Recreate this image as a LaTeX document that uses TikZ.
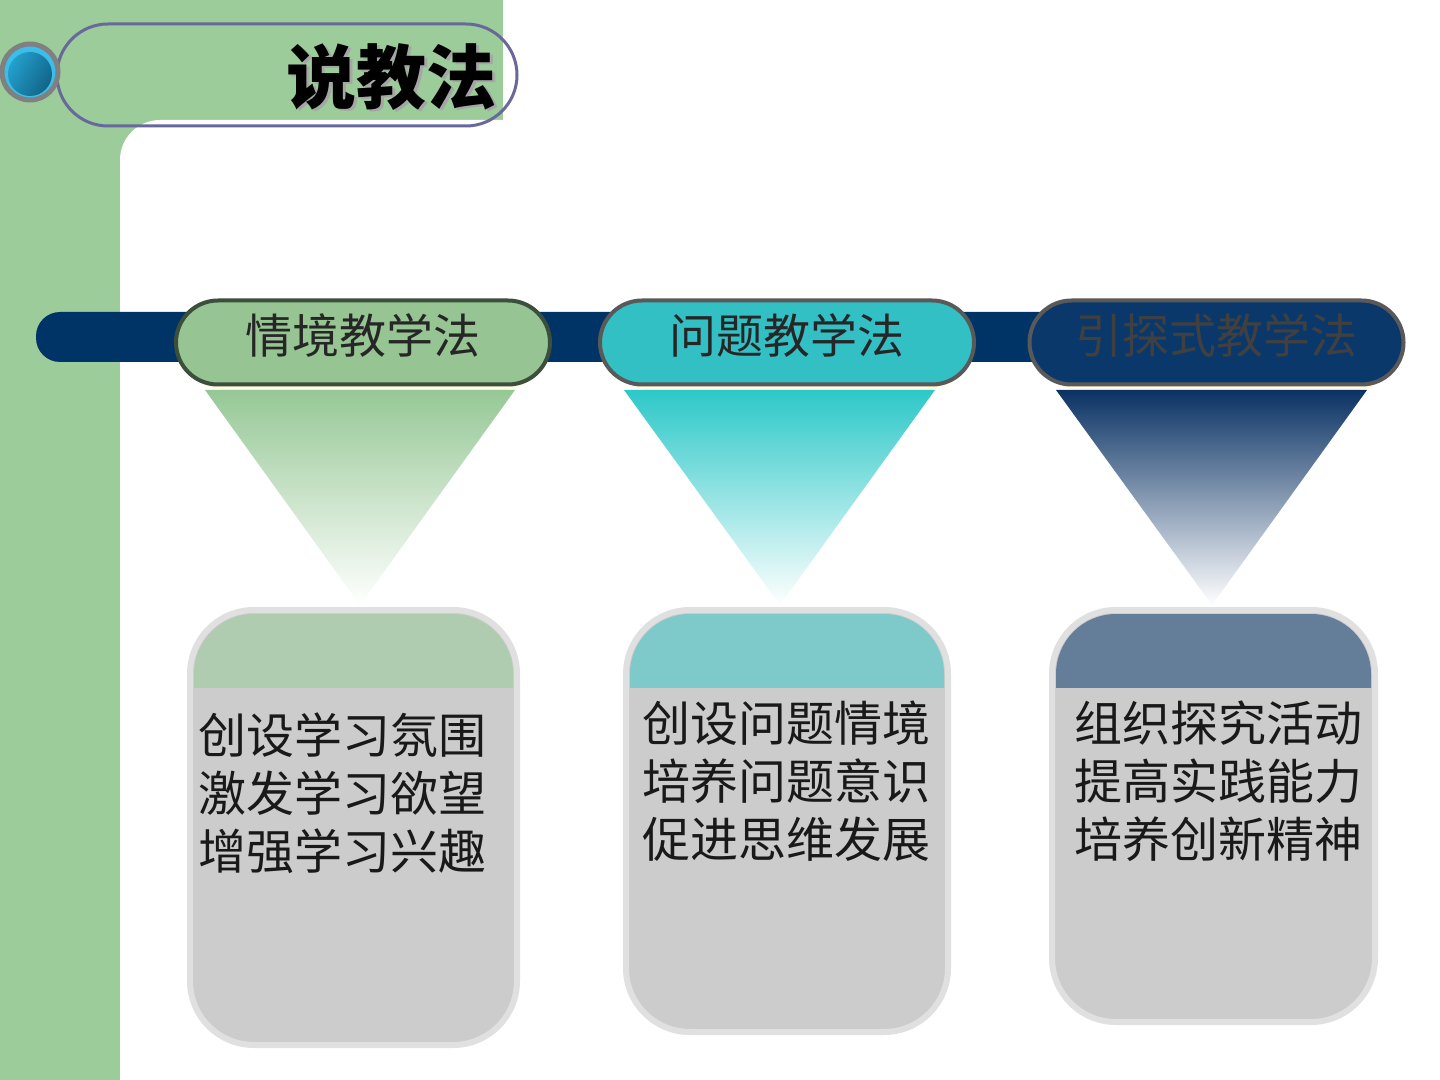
\documentclass[tikz,border=0pt]{standalone}
\usepackage{fontspec}
\newfontfamily\cjk{Noto Sans CJK SC}
\usetikzlibrary{shapes.misc}
\definecolor{bggreen}{RGB}{155,204,153}
\definecolor{navy}{RGB}{0,51,102}
\definecolor{pillgreen}{RGB}{150,196,146}
\definecolor{pillteal}{RGB}{51,192,196}
\definecolor{pillnavy}{RGB}{10,56,106}
\definecolor{boxgray}{RGB}{204,204,204}
\definecolor{boxedge}{RGB}{224,224,224}
\definecolor{bandgreen}{RGB}{176,204,176}
\definecolor{bandteal}{RGB}{126,202,202}
\definecolor{bandnavy}{RGB}{100,126,154}
\definecolor{titleedge}{RGB}{104,104,156}
\definecolor{glow}{RGB}{255,250,225}
\definecolor{trigreen}{RGB}{150,200,150}
\definecolor{triteal}{RGB}{45,200,200}
\definecolor{trinavy}{RGB}{10,50,100}
\definecolor{ringgray}{RGB}{128,128,128}
\definecolor{ringcyan}{RGB}{60,190,235}
\newcommand{\pilltext}[1]{\raisebox{-5.4pt}[0pt][0pt]{#1}}
\begin{document}
\begin{tikzpicture}[x=0.5pt,y=-0.5pt,
  pill/.style={rounded rectangle, minimum width=187pt, minimum height=42pt,
    line width=2pt, inner sep=0pt, font=\cjk\fontsize{23.5}{28}\selectfont, text=black!85},
  pillglow/.style={rounded rectangle, minimum width=189pt, minimum height=44pt,
    fill=glow, draw=none},
  boxtext/.style={anchor=north west, inner sep=0pt, align=left,
    font=\cjk\fontsize{24}{29}\selectfont, text=black!90},
  boxedgestyle/.style={draw=boxedge, line width=3pt, rounded corners=32pt},
]
\useasboundingbox (0,0) rectangle (1440,1080);
% background
\fill[white] (0,0) rectangle (1440,1080);
\fill[bggreen] (0,0) rectangle (503,170);
\fill[bggreen] (0,0) rectangle (120,1080);
\fill[white, rounded corners=20pt] (120,120) rectangle (1500,1120);

% title pill and ring
\node[draw=titleedge, line width=1.5pt, rounded rectangle, minimum width=230pt,
      minimum height=51pt, inner sep=0pt] (titlepill) at (287,75) {};
\node[gray!70, anchor=east, inner sep=0pt, font=\cjk\bfseries\fontsize{35}{40}\selectfont]
      (titleshadow) at (499.5,79.5) {说教法};
\node[black, anchor=east, inner sep=0pt, font=\cjk\bfseries\fontsize{35}{40}\selectfont]
      (title) at (497,77) {说教法};
\node[circle, draw=ringgray, line width=2.5pt, minimum size=28pt, inner sep=0pt,
      fill=ringcyan] (ringout) at (30,72) {};
\shade[left color={rgb,255:red,35;green,160;blue,205}, right color={rgb,255:red,18;green,100;blue,135},
       shading angle=60] (30,74) circle (22);

% navy band
\fill[navy, rounded corners=12pt] (36,312) rectangle (1300,362);

% pills
\node[pillglow] at (364,346) {};
\node[pillglow] at (788,346) {};
\node[pillglow] at (1217,346) {};
\node[pill, draw={rgb,255:red,60;green,78;blue,60}, fill=pillgreen] (p1) at (363,342.5) {\pilltext{情境教学法}};
\node[pill, draw=black!65, fill=pillteal] (p2) at (787,342.5) {\pilltext{问题教学法}};
\node[pill, draw=black!65, fill=pillnavy, text=black!75] (p3) at (1216.5,342.5) {\pilltext{引探式教学法}};

% triangles
\shade[top color=trigreen, bottom color=white] (205,390) -- (515,390) -- (360,605) -- cycle;
\shade[top color=triteal, bottom color=white] (624,390) -- (935,390) -- (780,605) -- cycle;
\shade[top color=trinavy, bottom color=white] (1056,390) -- (1367,390) -- (1212,605) -- cycle;

% boxes
\fill[boxgray, rounded corners=32pt] (190,610) rectangle (517,1045);
\begin{scope}
  \clip[rounded corners=30pt] (194,614) rectangle (513,1041);
  \fill[bandgreen] (190,610) rectangle (517,688);
\end{scope}
\draw[boxedgestyle] (190,610) rectangle (517,1045);

\fill[boxgray, rounded corners=32pt] (626,610) rectangle (948,1032);
\begin{scope}
  \clip[rounded corners=30pt] (630,614) rectangle (944,1028);
  \fill[bandteal] (626,610) rectangle (948,688);
\end{scope}
\draw[boxedgestyle] (626,610) rectangle (948,1032);

\fill[boxgray, rounded corners=32pt] (1052,610) rectangle (1375,1022);
\begin{scope}
  \clip[rounded corners=30pt] (1056,614) rectangle (1371,1018);
  \fill[bandnavy] (1052,610) rectangle (1375,688);
\end{scope}
\draw[boxedgestyle] (1052,610) rectangle (1375,1022);

\node[boxtext] (t1) at (198,712) {创设学习氛围\\激发学习欲望\\增强学习兴趣};
\node[boxtext] (t2) at (642,700) {创设问题情境\\培养问题意识\\促进思维发展};
\node[boxtext] (t3) at (1074,700) {组织探究活动\\提高实践能力\\培养创新精神};
\end{tikzpicture}
\end{document}
